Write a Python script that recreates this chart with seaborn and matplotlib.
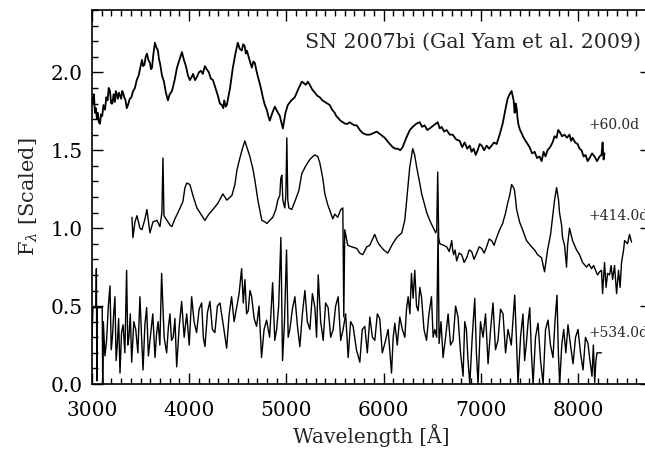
import pandas as pd
import matplotlib
matplotlib.use("Agg")
import matplotlib.pyplot as plt
import seaborn as sns
from matplotlib.ticker import MultipleLocator, FormatStrFormatter

# +60.0d spectrum
wave_060 = [3000, 3010, 3020, 3030, 3041, 3050, 3060, 3070, 3082, 3093, 3105, 3118, 3134, 3147, 3160,
            3172, 3185, 3197, 3210, 3222, 3236, 3245, 3255, 3266, 3277, 3288, 3300, 3310, 3319, 3332,
            3345, 3357, 3370, 3388, 3405, 3423, 3442, 3460, 3480, 3497, 3514, 3527, 3540, 3552, 3565,
            3580, 3596, 3607, 3617, 3632, 3647, 3662, 3678, 3690, 3699, 3720, 3740, 3760, 3781, 3800,
            3822, 3850, 3874, 3900, 3925, 3945, 3966, 3987, 4007, 4025, 4040, 4060, 4079, 4100, 4120,
            4140, 4161, 4180, 4202, 4222, 4244, 4270, 4295, 4315, 4336, 4350, 4360, 4375, 4387, 4420,
            4449, 4475, 4500, 4520, 4541, 4555, 4570, 4582, 4593, 4620, 4644, 4660, 4675, 4695, 4716,
            4737, 4757, 4778, 4798, 4813, 4829, 4855, 4881, 4905, 4932, 4948, 4963, 4990, 5014, 5050,
            5086, 5120, 5158, 5180, 5199, 5220, 5240, 5265, 5292, 5317, 5343, 5370, 5395, 5420, 5446,
            5470, 5497, 5512, 5528, 5555, 5580, 5605, 5631, 5650, 5672, 5698, 5723, 5755, 5785, 5820,
            5857, 5895, 5929, 5970, 6011, 6050, 6093, 6120, 6145, 6170, 6196, 6220, 6247, 6270, 6299,
            6335, 6371, 6395, 6422, 6448, 6474, 6515, 6556, 6577, 6597, 6622, 6648, 6680, 6710, 6745,
            6782, 6808, 6833, 6860, 6885, 6905, 6926, 6947, 6967, 6988, 7008, 7034, 7059, 7085, 7111,
            7136, 7162, 7193, 7224, 7255, 7275, 7296, 7316, 7327, 7337, 7347, 7358, 7368, 7378, 7388,
            7403, 7419, 7440, 7460, 7480, 7501, 7527, 7553, 7578, 7604, 7625, 7645, 7665, 7686, 7712,
            7738, 7758, 7779, 7795, 7809, 7835, 7861, 7885, 7912, 7928, 7943, 7970, 7995, 8015, 8036,
            8056, 8077, 8098, 8118, 8144, 8169, 8195, 8221, 8241, 8252, 8262, 8272]
flux_060 = [1.84, 1.80, 1.86, 1.74, 1.77, 1.70, 1.74, 1.68, 1.67, 1.73, 1.72, 1.79, 1.76, 1.84, 1.82,
            1.90, 1.88, 1.80, 1.80, 1.86, 1.81, 1.88, 1.86, 1.83, 1.87, 1.85, 1.83, 1.88, 1.87, 1.84,
            1.82, 1.77, 1.79, 1.83, 1.84, 1.88, 1.90, 1.95, 1.98, 2.03, 2.08, 2.04, 2.05, 2.10, 2.12,
            2.08, 2.06, 2.02, 2.03, 2.12, 2.19, 2.16, 2.14, 2.08, 2.06, 1.98, 1.94, 1.87, 1.82, 1.86,
            1.88, 1.95, 2.03, 2.08, 2.13, 2.08, 2.04, 1.98, 1.95, 1.97, 1.99, 1.95, 1.97, 2.00, 2.01,
            1.99, 2.04, 2.02, 2.00, 1.96, 1.95, 1.90, 1.85, 1.80, 1.79, 1.77, 1.82, 1.78, 1.79, 1.90,
            2.03, 2.12, 2.19, 2.15, 2.14, 2.18, 2.17, 2.12, 2.14, 2.08, 2.03, 2.07, 2.06, 2.00, 1.95,
            1.90, 1.84, 1.79, 1.76, 1.72, 1.69, 1.74, 1.78, 1.75, 1.72, 1.68, 1.64, 1.74, 1.79, 1.82,
            1.84, 1.89, 1.94, 1.93, 1.92, 1.94, 1.92, 1.89, 1.87, 1.85, 1.84, 1.82, 1.81, 1.80, 1.79,
            1.76, 1.74, 1.72, 1.71, 1.69, 1.68, 1.67, 1.67, 1.68, 1.67, 1.66, 1.66, 1.63, 1.61, 1.60,
            1.60, 1.61, 1.62, 1.60, 1.58, 1.55, 1.52, 1.51, 1.51, 1.50, 1.52, 1.56, 1.60, 1.63, 1.65,
            1.67, 1.68, 1.65, 1.66, 1.63, 1.64, 1.66, 1.68, 1.64, 1.65, 1.62, 1.63, 1.60, 1.60, 1.57,
            1.56, 1.52, 1.55, 1.51, 1.53, 1.49, 1.51, 1.47, 1.50, 1.54, 1.53, 1.50, 1.53, 1.51, 1.53,
            1.55, 1.54, 1.60, 1.67, 1.77, 1.83, 1.86, 1.88, 1.85, 1.82, 1.74, 1.80, 1.77, 1.70, 1.66,
            1.63, 1.61, 1.58, 1.56, 1.54, 1.52, 1.48, 1.49, 1.45, 1.46, 1.43, 1.49, 1.46, 1.50, 1.52,
            1.55, 1.59, 1.58, 1.63, 1.62, 1.59, 1.60, 1.58, 1.60, 1.56, 1.58, 1.55, 1.54, 1.51, 1.50,
            1.46, 1.47, 1.43, 1.45, 1.48, 1.46, 1.43, 1.46, 1.47, 1.55, 1.44, 1.48]

# +414.0d spectrum
wave_414 = [3411, 3421, 3442, 3462, 3493, 3514, 3545, 3565, 3596, 3627, 3668, 3699, 3719, 3730, 3740,
            3771, 3802, 3822, 3853, 3884, 3935, 3956, 3976, 4007, 4038, 4079, 4120, 4161, 4202, 4244,
            4295, 4346, 4387, 4439, 4470, 4490, 4521, 4552, 4572, 4593, 4624, 4655, 4675, 4706, 4747,
            4778, 4798, 4829, 4860, 4891, 4911, 4932, 4942, 4953, 4963, 4983, 4994, 5004, 5014, 5025,
            5055, 5086, 5127, 5158, 5199, 5240, 5271, 5292, 5322, 5343, 5374, 5395, 5425, 5477, 5497,
            5528, 5559, 5580, 5590, 5600, 5631, 5672, 5723, 5754, 5785, 5826, 5857, 5908, 5939, 5960,
            6001, 6042, 6093, 6135, 6186, 6217, 6237, 6268, 6289, 6299, 6319, 6340, 6371, 6391, 6422,
            6443, 6474, 6505, 6535, 6546, 6556, 6566, 6577, 6618, 6648, 6675, 6700, 6710, 6720, 6735,
            6751, 6777, 6803, 6828, 6854, 6880, 6905, 6930, 6957, 6982, 7008, 7034, 7059, 7085, 7111,
            7136, 7162, 7193, 7224, 7255, 7275, 7296, 7316, 7337, 7347, 7368, 7398, 7429, 7470, 7522,
            7553, 7583, 7624, 7655, 7686, 7717, 7738, 7758, 7779, 7799, 7809, 7830, 7840, 7861, 7881,
            7892, 7912, 7943, 7984, 8015, 8046, 8087, 8112, 8138, 8160, 8180, 8200, 8221, 8241, 8252,
            8272, 8288, 8303, 8324, 8340, 8355, 8375, 8396, 8416, 8432, 8447, 8468, 8478, 8509, 8529,
            8550]
flux_414 = [1.07, 0.94, 1.04, 1.08, 1.00, 0.99, 1.06, 1.12, 0.97, 1.04, 1.05, 1.01, 1.10, 1.45, 1.08,
            1.05, 1.02, 1.01, 1.06, 1.10, 1.17, 1.26, 1.29, 1.28, 1.21, 1.13, 1.09, 1.05, 1.09, 1.12,
            1.16, 1.22, 1.18, 1.21, 1.28, 1.37, 1.45, 1.52, 1.56, 1.52, 1.46, 1.38, 1.31, 1.18, 1.05,
            1.04, 1.03, 1.05, 1.07, 1.12, 1.18, 1.21, 1.32, 1.34, 1.18, 1.13, 1.21, 1.58, 1.18, 1.13,
            1.12, 1.17, 1.24, 1.35, 1.40, 1.44, 1.46, 1.47, 1.46, 1.42, 1.32, 1.22, 1.15, 1.06, 1.09,
            1.07, 1.12, 1.13, 0.43, 0.99, 0.89, 0.88, 0.87, 0.84, 0.83, 0.88, 0.89, 0.96, 0.91, 0.89,
            0.86, 0.84, 0.90, 0.94, 0.97, 1.05, 1.18, 1.39, 1.47, 1.51, 1.47, 1.39, 1.29, 1.22, 1.15,
            1.10, 1.05, 1.01, 0.97, 0.99, 1.36, 0.94, 0.90, 0.89, 0.88, 0.85, 0.92, 0.86, 0.83, 0.86,
            0.79, 0.84, 0.83, 0.78, 0.81, 0.86, 0.85, 0.80, 0.84, 0.88, 0.87, 0.84, 0.88, 0.93, 0.92,
            0.89, 0.94, 0.99, 1.03, 1.10, 1.16, 1.21, 1.28, 1.26, 1.24, 1.12, 1.04, 0.99, 0.92, 0.88,
            0.86, 0.83, 0.81, 0.72, 0.86, 0.96, 1.07, 1.18, 1.26, 1.18, 1.10, 1.02, 0.94, 0.89, 0.75,
            0.89, 1.00, 0.92, 0.86, 0.83, 0.78, 0.75, 0.77, 0.74, 0.76, 0.73, 0.70, 0.72, 0.73, 0.58,
            0.78, 0.62, 0.71, 0.70, 0.76, 0.67, 0.76, 0.58, 0.73, 0.62, 0.78, 0.86, 0.92, 0.90, 0.96,
            0.91]

# +534.0d spectrum
wave_534 = [3000, 3010, 3040, 3045, 3050, 3055, 3105, 3110, 3117, 3133, 3150, 3168, 3185, 3198, 3210,
            3223, 3236, 3248, 3260, 3274, 3288, 3304, 3320, 3338, 3356, 3368, 3380, 3394, 3408, 3430,
            3450, 3472, 3493, 3510, 3525, 3544, 3562, 3580, 3600, 3625, 3648, 3664, 3680, 3698, 3716,
            3742, 3768, 3785, 3802, 3818, 3835, 3853, 3871, 3896, 3922, 3948, 3974, 4000, 4025, 4050,
            4076, 4102, 4128, 4145, 4162, 4188, 4213, 4238, 4264, 4290, 4316, 4350, 4385, 4410, 4436,
            4462, 4487, 4513, 4539, 4556, 4573, 4590, 4607, 4625, 4642, 4668, 4693, 4718, 4744, 4770,
            4796, 4827, 4858, 4880, 4899, 4920, 4943, 4960, 4980, 5001, 5018, 5035, 5061, 5087, 5112,
            5138, 5164, 5190, 5215, 5241, 5267, 5293, 5310, 5327, 5352, 5378, 5403, 5429, 5455, 5481,
            5506, 5532, 5558, 5583, 5609, 5635, 5660, 5686, 5720, 5755, 5780, 5806, 5832, 5858, 5884,
            5909, 5935, 5960, 5986, 6012, 6046, 6081, 6098, 6115, 6140, 6166, 6192, 6218, 6235, 6252,
            6270, 6286, 6303, 6320, 6338, 6355, 6372, 6389, 6415, 6441, 6466, 6492, 6509, 6526, 6545,
            6560, 6570, 6590, 6611, 6637, 6663, 6688, 6714, 6740, 6765, 6791, 6817, 6834, 6851, 6868,
            6886, 6911, 6937, 6954, 6971, 6996, 7022, 7048, 7074, 7100, 7125, 7150, 7176, 7202, 7228,
            7254, 7279, 7313, 7348, 7365, 7382, 7408, 7433, 7450, 7468, 7486, 7503, 7520, 7537, 7562,
            7588, 7614, 7640, 7665, 7691, 7716, 7742, 7762, 7783, 7797, 7811, 7832, 7852, 7874, 7896,
            7922, 7948, 7974, 7999, 8025, 8051, 8076, 8102, 8122, 8143, 8157, 8171, 8183, 8195, 8240]
flux_534 = [0.30, 0.49, 0.49, 0.74, 0.02, 0.49, 0.49, 0.00, 0.40, 0.18, 0.28, 0.50, 0.63, 0.22, 0.30,
            0.45, 0.56, 0.15, 0.25, 0.42, 0.07, 0.33, 0.38, 0.20, 0.73, 0.25, 0.30, 0.45, 0.14, 0.40,
            0.35, 0.20, 0.56, 0.30, 0.09, 0.38, 0.49, 0.18, 0.30, 0.45, 0.17, 0.32, 0.40, 0.25, 0.71,
            0.30, 0.20, 0.36, 0.45, 0.28, 0.30, 0.42, 0.11, 0.36, 0.53, 0.30, 0.45, 0.25, 0.56, 0.40,
            0.33, 0.48, 0.52, 0.30, 0.24, 0.46, 0.53, 0.35, 0.33, 0.50, 0.52, 0.38, 0.23, 0.44, 0.56,
            0.40, 0.49, 0.58, 0.74, 0.52, 0.67, 0.45, 0.47, 0.60, 0.56, 0.42, 0.37, 0.50, 0.17, 0.35,
            0.41, 0.30, 0.65, 0.28, 0.35, 0.50, 0.94, 0.15, 0.40, 0.86, 0.30, 0.35, 0.48, 0.56, 0.38,
            0.24, 0.45, 0.60, 0.40, 0.35, 0.58, 0.49, 0.30, 0.70, 0.40, 0.28, 0.52, 0.49, 0.30, 0.35,
            0.50, 0.56, 0.28, 0.35, 0.45, 0.17, 0.40, 0.37, 0.22, 0.14, 0.35, 0.37, 0.20, 0.43, 0.30,
            0.28, 0.45, 0.42, 0.20, 0.26, 0.35, 0.07, 0.30, 0.39, 0.25, 0.43, 0.35, 0.30, 0.48, 0.56,
            0.45, 0.71, 0.55, 0.73, 0.50, 0.47, 0.62, 0.56, 0.35, 0.28, 0.45, 0.56, 0.30, 0.35, 0.30,
            0.99, 0.26, 0.40, 0.17, 0.30, 0.45, 0.25, 0.28, 0.50, 0.43, 0.20, 0.05, 0.40, 0.35, 0.15,
            0.00, 0.30, 0.55, 0.20, 0.00, 0.40, 0.30, 0.45, 0.13, 0.35, 0.52, 0.22, 0.28, 0.48, 0.45,
            0.20, 0.35, 0.25, 0.57, 0.30, 0.00, 0.30, 0.45, 0.15, 0.26, 0.40, 0.49, 0.20, 0.00, 0.30,
            0.39, 0.15, 0.00, 0.35, 0.41, 0.25, 0.17, 0.40, 0.57, 0.20, 0.00, 0.25, 0.35, 0.20, 0.38,
            0.25, 0.13, 0.30, 0.35, 0.20, 0.09, 0.30, 0.26, 0.15, 0.05, 0.25, 0.01, 0.15, 0.20, 0.20]

epochs = ["+60.0d", "+414.0d", "+534.0d"]
label_wave = 8110
label_flux = [1.66, 1.08, 0.33]

sns.set_style("ticks")
plt.rcParams["font.family"] = ["DejaVu Serif"]
plt.rcParams["mathtext.fontset"] = "dejavuserif"

fig = plt.figure(figsize=(6.45, 4.49), dpi=100)
ax = fig.add_axes([92 / 645, 65 / 449, 559 / 645, 374 / 449])

spectra = [(wave_060, flux_060, 1.3), (wave_414, flux_414, 1.0), (wave_534, flux_534, 1.0)]
for w, f, lw in spectra:
    df = pd.DataFrame({"wave": w, "flux": f})
    sns.lineplot(data=df, x="wave", y="flux", color="black", lw=lw,
                 estimator=None, sort=False, ax=ax)

for name, y in zip(epochs, label_flux):
    ax.text(label_wave, y, name, fontsize=10, va="center", ha="left")

ax.text(5190, 2.19, "SN 2007bi (Gal Yam et al. 2009)", fontsize=14.8, va="center", ha="left")

ax.set_xlim(3000, 8750)
ax.set_ylim(0, 2.4)
ax.xaxis.set_major_locator(MultipleLocator(1000))
ax.xaxis.set_minor_locator(MultipleLocator(100))
ax.yaxis.set_major_locator(MultipleLocator(0.5))
ax.yaxis.set_minor_locator(MultipleLocator(0.1))
ax.yaxis.set_major_formatter(FormatStrFormatter("%.1f"))
ax.tick_params(which="both", direction="in", top=True, right=True, width=1, colors="black")
ax.tick_params(which="major", length=8, labelsize=14.5)
ax.tick_params(which="minor", length=4)
ax.tick_params(axis="x", which="major", pad=12)
ax.tick_params(axis="y", which="major", pad=7)
for s in ax.spines.values():
    s.set_linewidth(1.2)
    s.set_color("black")

ax.set_xlabel("Wavelength [Å]", fontsize=14.5, labelpad=3)
ax.set_ylabel(r"F$_\lambda$ [Scaled]", fontsize=15, labelpad=7)

fig.savefig("out.png", dpi=100)
